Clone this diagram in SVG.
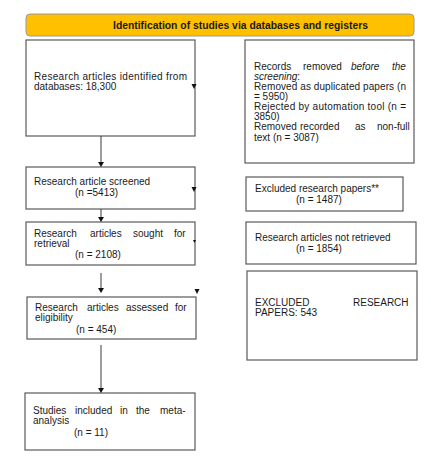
<svg xmlns="http://www.w3.org/2000/svg" width="431" height="464" viewBox="0 0 431 464">
<style>
.box{fill:#fff;stroke:#5a5a5a;stroke-width:1.2}
.t{font-family:"Liberation Sans",Arial,sans-serif;font-size:10px;fill:#1a1a1a}
.h{font-family:"Liberation Sans",Arial,sans-serif;font-size:10px;font-weight:bold;fill:#1a1a1a}
.c{stroke:#3a3a3a;stroke-width:1;fill:none}
.ah{fill:#111}
</style>
<rect width="431" height="464" fill="#fff"/>
<g id="header">
<rect x="26" y="14" width="388" height="22" rx="4" fill="#FFC000" stroke="#9a9a9a" stroke-width="1"/>
<text class="h" x="113" y="28.5" textLength="255" lengthAdjust="spacingAndGlyphs">Identification of studies via databases and registers</text>
</g>
<g id="identified">
<rect class="box" x="26" y="40" width="169" height="96"/>
<text class="t" x="34" y="80" textLength="153" lengthAdjust="spacing">Research articles identified from</text>
<text class="t" x="34" y="90">databases: 18,300</text>
</g>
<g id="removed">
<rect class="box" x="245" y="40" width="169" height="123"/>
<text class="t" y="70"><tspan x="254">Records</tspan><tspan x="303">removed</tspan><tspan x="351" font-style="italic">before</tspan><tspan x="392" font-style="italic">the</tspan></text>
<text class="t" x="254" y="80" font-style="italic">screening<tspan font-style="normal">:</tspan></text>
<text class="t" x="254" y="90" textLength="152" lengthAdjust="spacing">Removed as duplicated papers (n</text>
<text class="t" x="254" y="100">= 5950)</text>
<text class="t" x="254" y="110" textLength="152" lengthAdjust="spacing">Rejected by automation tool (n =</text>
<text class="t" x="254" y="120">3850)</text>
<text class="t" y="130"><tspan x="254">Removed</tspan><tspan x="300">recorded</tspan><tspan x="355">as</tspan><tspan x="377">non-full</tspan></text>
<text class="t" x="254" y="141">text (n = 3087)</text>
</g>
<g id="screened">
<rect class="box" x="26" y="167" width="169" height="42"/>
<text class="t" x="34" y="185">Research article screened</text>
<text class="t" x="75" y="196">(n =5413)</text>
</g>
<g id="excluded1">
<rect class="box" x="246" y="177" width="157" height="34"/>
<text class="t" x="255" y="192">Excluded research papers**</text>
<text class="t" x="296" y="203">(n = 1487)</text>
</g>
<g id="sought">
<rect class="box" x="26" y="222" width="169" height="43"/>
<text class="t" y="237"><tspan x="34">Research</tspan><tspan x="90">articles</tspan><tspan x="133">sought</tspan><tspan x="174">for</tspan></text>
<text class="t" x="34" y="247">retrieval</text>
<text class="t" x="75" y="258">(n = 2108)</text>
</g>
<g id="notretrieved">
<rect class="box" x="246" y="222" width="170" height="42"/>
<text class="t" x="255" y="241">Research articles not retrieved</text>
<text class="t" x="296" y="252">(n = 1854)</text>
</g>
<g id="assessed">
<rect class="box" x="27" y="297" width="169" height="42"/>
<text class="t" y="311"><tspan x="35">Research</tspan><tspan x="87">articles</tspan><tspan x="126">assessed</tspan><tspan x="175">for</tspan></text>
<text class="t" x="35" y="321">eligibility</text>
<text class="t" x="76" y="333">(n = 454)</text>
</g>
<g id="excluded2">
<rect class="box" x="247" y="271" width="170" height="89"/>
<text class="t" y="306"><tspan x="255">EXCLUDED</tspan><tspan x="353">RESEARCH</tspan></text>
<text class="t" x="255" y="316">PAPERS: 543</text>
</g>
<g id="included">
<rect class="box" x="25" y="393" width="170" height="57"/>
<text class="t" y="414"><tspan x="33">Studies</tspan><tspan x="75">included</tspan><tspan x="120">in</tspan><tspan x="136">the</tspan><tspan x="160">meta-</tspan></text>
<text class="t" x="33" y="424">analysis</text>
<text class="t" x="74" y="436">(n = 11)</text>
</g>
<g id="connectors">
<path class="c" d="M101 136V163"/>
<path class="ah" d="M98 162h6l-3 5z"/>
<path class="c" d="M101 209V218"/>
<path class="ah" d="M98 217h6l-3 5z"/>
<path class="c" d="M101 273V288"/>
<path class="ah" d="M98 288h6l-3 5z"/>
<path class="c" d="M101 345V388"/>
<path class="ah" d="M98 388h6l-3 5z"/>
<path class="ah" d="M191.5 84h5l-2.5 5z"/>
<path class="ah" d="M191.5 187h5l-2.5 5z"/>
<path class="ah" d="M193 240h3l-1.5 3z"/>
<path class="ah" d="M194.5 289h5l-2.5 5z"/>
</g>
</svg>
